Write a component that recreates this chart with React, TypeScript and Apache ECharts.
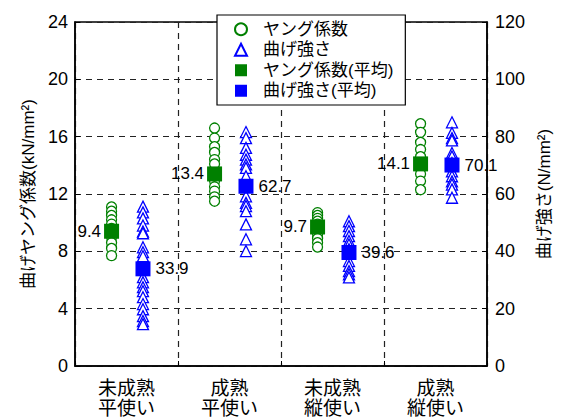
import React, { useEffect, useRef } from "react";
import * as echarts from "echarts";

const categories = ["未成熟\n平使い", "成熟\n平使い", "未成熟\n縦使い", "成熟\n縦使い"];
const leftTicks = [0, 4, 8, 12, 16, 20, 24];
const rightTicks = [0, 20, 40, 60, 80, 100, 120];

// ヤング係数 (kN/mm2) per group
const young0 = [11.1, 10.8, 10.5, 10.2, 9.9, 9.6, 9.3, 9.0, 8.6, 8.2, 7.7];
const young1 = [16.6, 15.9, 15.3, 14.9, 14.4, 14.1, 13.2, 12.9, 12.5, 12.2, 11.8, 11.5];
const young2 = [10.7, 10.5, 10.3, 10.1, 9.9, 9.7, 9.5, 9.2, 8.9, 8.6, 8.3];
const young3 = [16.9, 16.3, 15.6, 15.1, 14.6, 13.8, 13.4, 12.9, 12.3];
// 曲げ強さ (N/mm2) per group
const bend0 = [55.6, 53.6, 51.5, 49.0, 46.9, 46.3, 41.4, 39.7, 38.3, 31.0, 29.2, 27.5, 26.1, 24.0, 21.6, 19.8, 17.4, 15.7, 14.6];
const bend1 = [81.6, 79.5, 76.1, 73.7, 72.0, 70.3, 69.1, 66.2, 59.2, 56.9, 55.8, 54.0, 49.4, 44.2, 40.1];
const bend2 = [50.5, 48.8, 47.1, 45.3, 43.6, 42.4, 40.7, 36.6, 34.9, 33.1, 32.0, 30.9];
const bend3 = [85.0, 81.3, 79.5, 78.7, 74.3, 73.1, 70.8, 67.9, 66.2, 64.4, 63.3, 61.6, 58.7];
// means
const youngMean = [9.4, 13.4, 9.7, 14.1];
const bendMean = [33.9, 62.7, 39.6, 70.1];

const youngGroups = [young0, young1, young2, young3];
const bendGroups = [bend0, bend1, bend2, bend3];

const GREEN_OFF = 0.355;
const BLUE_OFF = 0.66;
const FONT = "'Liberation Sans', 'Noto Sans CJK JP', sans-serif";

export default function App() {
  const ref = useRef<HTMLDivElement>(null);
  useEffect(() => {
    if (!ref.current) return;
    document.body.style.margin = "0";
    const chart = echarts.init(ref.current, null, { renderer: "svg" });
    const youngData: number[][] = [];
    youngGroups.forEach((g, i) => g.forEach((v) => youngData.push([i + GREEN_OFF, v])));
    const bendData: number[][] = [];
    bendGroups.forEach((g, i) => g.forEach((v) => bendData.push([i + BLUE_OFF, v])));
    const dash = { color: "#222", width: 1.2, type: [6, 5] as any };
    chart.setOption({
      animation: false,
      textStyle: { fontFamily: FONT },
      grid: {
        left: 75,
        right: 78,
        top: 22,
        bottom: 51,
        show: true,
        borderColor: "#000",
        borderWidth: 1.5,
        backgroundColor: "transparent",
      },
      legend: {
        left: 217,
        top: 15,
        orient: "vertical",
        backgroundColor: "#fff",
        borderColor: "#000",
        borderWidth: 1.2,
        borderRadius: 0,
        padding: [4, 12, 4, 17],
        itemWidth: 12,
        itemHeight: 12,
        itemGap: 0,
        textStyle: { fontSize: 17, color: "#000", lineHeight: 20.5, padding: [0, 0, 0, 11], fontFamily: FONT },
        data: ["ヤング係数", "曲げ強さ", "ヤング係数(平均)", "曲げ強さ(平均)"],
      },
      xAxis: [
        {
          type: "value",
          min: 0,
          max: 4,
          interval: 1,
          axisLine: { show: true, lineStyle: { color: "#000", width: 1.5 } },
          axisTick: { show: true, inside: true, length: 5, lineStyle: { color: "#000" } },
          axisLabel: { show: false },
          splitLine: { show: true, lineStyle: dash },
        },
        {
          type: "category",
          data: categories,
          position: "bottom",
          boundaryGap: true,
          axisLine: { show: false },
          axisTick: { show: false },
          splitLine: { show: false },
          axisLabel: { fontSize: 19, color: "#000", lineHeight: 20, margin: 12, fontFamily: FONT },
        },
      ],
      yAxis: [
        {
          type: "value",
          min: 0,
          max: 24,
          interval: 4,
          name: "曲げヤング係数(kN/mm²)",
          nameLocation: "middle",
          nameGap: 38,
          nameTextStyle: { fontSize: 17, color: "#000", fontFamily: FONT },
          axisLine: { show: true, lineStyle: { color: "#000", width: 1.5 } },
          axisTick: { show: true, inside: true, length: 5, lineStyle: { color: "#000" } },
          axisLabel: {
            fontSize: 18,
            color: "#000",
            margin: 7,
            formatter: (v: number) => (leftTicks.includes(v) ? String(v) : ""),
          },
          splitLine: { show: true, lineStyle: dash },
        },
        {
          type: "value",
          min: 0,
          max: 120,
          interval: 20,
          name: "曲げ強さ(N/mm²)",
          nameLocation: "middle",
          nameGap: 45,
          nameRotate: 90,
          nameTextStyle: { fontSize: 17, color: "#000", fontFamily: FONT },
          axisLine: { show: true, lineStyle: { color: "#000", width: 1.5 } },
          axisTick: { show: true, inside: true, length: 5, lineStyle: { color: "#000" } },
          axisLabel: {
            fontSize: 18,
            color: "#000",
            margin: 8,
            formatter: (v: number) => (rightTicks.includes(v) ? String(v) : ""),
          },
          splitLine: { show: false },
        },
      ],
      series: [
        {
          name: "ヤング係数",
          type: "scatter",
          xAxisIndex: 0,
          yAxisIndex: 0,
          symbol: "circle",
          symbolSize: 10,
          itemStyle: { color: "#fff", borderColor: "#008000", borderWidth: 1.3, opacity: 1 },
          data: youngData,
          z: 3,
        },
        {
          name: "曲げ強さ",
          type: "scatter",
          xAxisIndex: 0,
          yAxisIndex: 1,
          symbol: "triangle",
          symbolSize: 11,
          itemStyle: { color: "#fff", borderColor: "#0000ff", borderWidth: 1.3, opacity: 1 },
          data: bendData,
          z: 3,
        },
        {
          name: "ヤング係数(平均)",
          type: "scatter",
          xAxisIndex: 0,
          yAxisIndex: 0,
          symbol: "rect",
          symbolSize: 15,
          itemStyle: { color: "#008000", opacity: 1 },
          label: {
            show: true,
            position: "left",
            distance: 3,
            fontSize: 17,
            color: "#000",
            formatter: (p: any) => p.value[1].toFixed(1),
          },
          data: youngMean.map((v, i) => [i + GREEN_OFF, v]),
          z: 5,
        },
        {
          name: "曲げ強さ(平均)",
          type: "scatter",
          xAxisIndex: 0,
          yAxisIndex: 1,
          symbol: "rect",
          symbolSize: 15,
          itemStyle: { color: "#0000ff", opacity: 1 },
          label: {
            show: true,
            position: "right",
            distance: 5,
            fontSize: 17,
            color: "#000",
            formatter: (p: any) => p.value[1].toFixed(1),
          },
          data: bendMean.map((v, i) => [i + BLUE_OFF, v]),
          z: 5,
        },
      ],
    });
    return () => chart.dispose();
  }, []);
  return <div ref={ref} style={{ width: 565, height: 418 }} />;
}
